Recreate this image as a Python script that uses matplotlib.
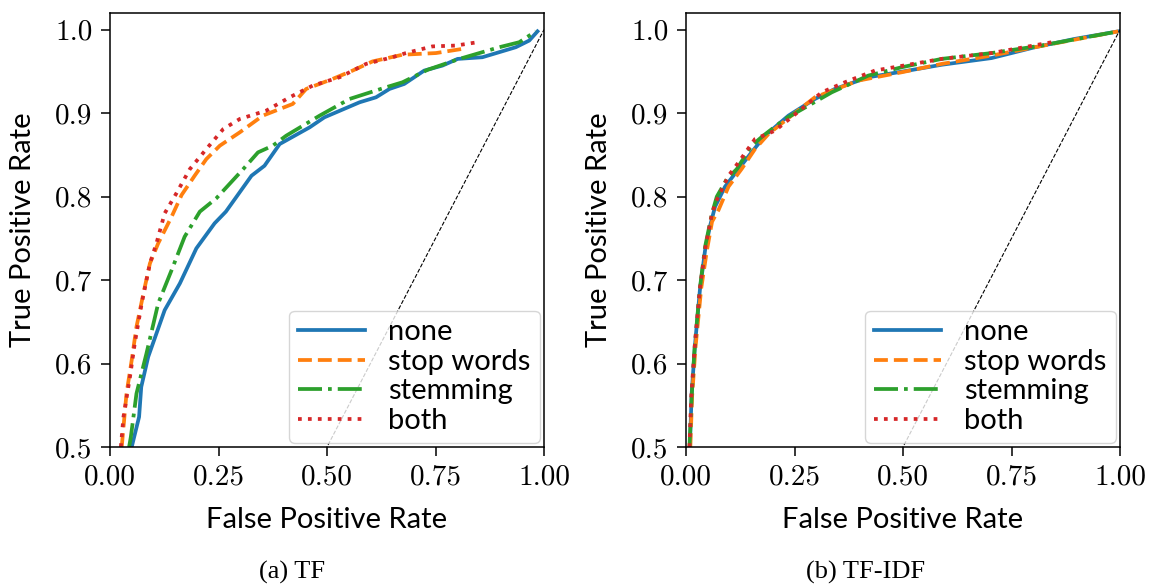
import matplotlib
matplotlib.use("Agg")
import matplotlib.pyplot as plt

# ROC curves (a) TF
tf_none_fpr = [0.05, 0.067, 0.072, 0.088, 0.126, 0.161, 0.199, 0.241, 0.267, 0.326, 0.356, 0.391,
               0.46, 0.494, 0.575, 0.613, 0.644, 0.678, 0.724, 0.766, 0.801, 0.858, 0.935, 0.966, 0.985]
tf_none_tpr = [0.5, 0.536, 0.572, 0.608, 0.664, 0.696, 0.738, 0.768, 0.782, 0.825, 0.837, 0.863,
               0.883, 0.895, 0.913, 0.919, 0.929, 0.935, 0.951, 0.957, 0.965, 0.967, 0.979, 0.987, 0.998]
tf_stop_fpr = [0.027, 0.038, 0.05, 0.061, 0.077, 0.092, 0.111, 0.142, 0.165, 0.195, 0.222, 0.253,
               0.299, 0.352, 0.421, 0.452, 0.513, 0.559, 0.605, 0.674, 0.751, 0.812]
tf_stop_tpr = [0.5, 0.564, 0.604, 0.644, 0.684, 0.72, 0.744, 0.776, 0.802, 0.825, 0.845, 0.861,
               0.877, 0.897, 0.911, 0.929, 0.941, 0.951, 0.962, 0.970, 0.972, 0.977]
tf_stem_fpr = [0.044, 0.048, 0.061, 0.084, 0.111, 0.142, 0.172, 0.207, 0.245, 0.307, 0.341, 0.375,
               0.406, 0.483, 0.552, 0.636, 0.674, 0.732, 0.805, 0.897, 0.943, 0.981]
tf_stem_tpr = [0.5, 0.512, 0.564, 0.612, 0.672, 0.712, 0.752, 0.782, 0.798, 0.833, 0.853, 0.861,
               0.873, 0.897, 0.917, 0.931, 0.937, 0.952, 0.965, 0.979, 0.985, 0.998]
tf_both_fpr = [0.025, 0.031, 0.046, 0.057, 0.073, 0.092, 0.107, 0.126, 0.153, 0.184, 0.222, 0.261,
               0.299, 0.36, 0.414, 0.467, 0.529, 0.59, 0.651, 0.682, 0.743, 0.797, 0.847]
tf_both_tpr = [0.5, 0.536, 0.584, 0.624, 0.672, 0.72, 0.744, 0.78, 0.804, 0.833, 0.857, 0.881,
               0.893, 0.903, 0.919, 0.933, 0.943, 0.959, 0.967, 0.972, 0.98, 0.981, 0.985]

# (b) TF-IDF
idf_none_fpr = [0.009, 0.013, 0.021, 0.032, 0.044, 0.055, 0.067, 0.09, 0.121, 0.151, 0.182, 0.236,
                0.297, 0.343, 0.42, 0.512, 0.589, 0.704, 0.804, 0.896, 0.996]
idf_none_tpr = [0.5, 0.564, 0.624, 0.688, 0.736, 0.764, 0.788, 0.812, 0.833, 0.853, 0.873, 0.897,
                0.917, 0.929, 0.943, 0.951, 0.958, 0.966, 0.979, 0.989, 0.998]
idf_stop_fpr = [0.01, 0.014, 0.022, 0.035, 0.048, 0.06, 0.075, 0.098, 0.128, 0.159, 0.19, 0.243,
                0.297, 0.397, 0.497, 0.589, 0.704, 0.804, 0.996]
idf_stop_tpr = [0.5, 0.56, 0.62, 0.69, 0.735, 0.77, 0.784, 0.812, 0.833, 0.857, 0.875, 0.897,
                0.919, 0.939, 0.949, 0.959, 0.969, 0.979, 0.998]
idf_stem_fpr = [0.008, 0.013, 0.02, 0.032, 0.044, 0.06, 0.071, 0.094, 0.117, 0.151, 0.178, 0.228,
                0.336, 0.42, 0.497, 0.589, 0.704, 0.819, 0.996]
idf_stem_tpr = [0.5, 0.56, 0.62, 0.69, 0.74, 0.78, 0.80, 0.821, 0.833, 0.861, 0.873, 0.893,
                0.925, 0.945, 0.955, 0.965, 0.972, 0.981, 0.998]
idf_both_fpr = [0.008, 0.012, 0.02, 0.032, 0.045, 0.06, 0.07, 0.098, 0.121, 0.159, 0.205, 0.243,
                0.313, 0.366, 0.435, 0.512, 0.589, 0.704, 0.843]
idf_both_tpr = [0.5, 0.56, 0.62, 0.69, 0.74, 0.78, 0.795, 0.825, 0.841, 0.869, 0.879, 0.895,
                0.925, 0.937, 0.951, 0.958, 0.965, 0.972, 0.985]

labels = ["none", "stop words", "stemming", "both"]
styles = ["-", "--", "-.", ":"]
colors = ["tab:blue", "tab:orange", "tab:green", "tab:red"]

panels = [
    ("(a) TF", [(tf_none_fpr, tf_none_tpr), (tf_stop_fpr, tf_stop_tpr),
                (tf_stem_fpr, tf_stem_tpr), (tf_both_fpr, tf_both_tpr)]),
    ("(b) TF-IDF", [(idf_none_fpr, idf_none_tpr), (idf_stop_fpr, idf_stop_tpr),
                    (idf_stem_fpr, idf_stem_tpr), (idf_both_fpr, idf_both_tpr)]),
]

SANS = "Lato"
FS = 21
fig = plt.figure(figsize=(11.52, 5.85), dpi=100)
lefts = [110 / 1152, 686 / 1152]
caption_x = [292 / 1152, 866 / 1152]

for left, cx, (caption, curves) in zip(lefts, caption_x, panels):
    ax = fig.add_axes([left, 138 / 585, 434 / 1152, 434 / 585])
    for (x, y), lab, ls, c in zip(curves, labels, styles, colors):
        ax.plot(x, y, ls, color=c, lw=2.7, label=lab)
    ax.plot([0, 1], [0, 1], "k--", lw=0.8)
    ax.set_xlim(0, 1)
    ax.set_ylim(0.5, 1.02)
    ax.set_xticks([0, 0.25, 0.5, 0.75, 1.0])
    ax.set_yticks([0.5, 0.6, 0.7, 0.8, 0.9, 1.0])
    ax.set_xticklabels([f"{v:.2f}" for v in ax.get_xticks()], family="cmr10", fontsize=FS)
    ax.set_yticklabels([f"{v:.1f}" for v in ax.get_yticks()], family="cmr10", fontsize=FS)
    ax.tick_params(length=6.5, width=1.1, pad=6)
    for s in ax.spines.values():
        s.set_linewidth(1.1)
    ax.set_xlabel("False Positive Rate", family=SANS, fontsize=FS, labelpad=12)
    ax.set_ylabel("True Positive Rate", family=SANS, fontsize=FS, labelpad=14)
    ax.legend(loc="lower right", prop={"family": SANS, "size": FS}, handlelength=2.3,
              handletextpad=0.8, labelspacing=0.12, borderaxespad=0.15, borderpad=0.3)
    fig.text(cx, 1 - 572 / 585, caption, ha="center", va="center",
             family="Liberation Serif", fontsize=19)

fig.savefig("out.png", dpi=100)
